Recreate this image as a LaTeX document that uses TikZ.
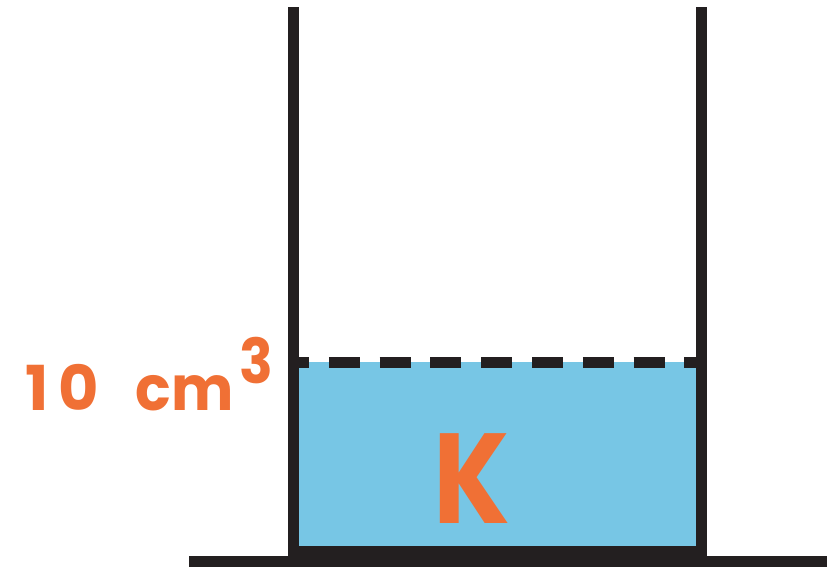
\documentclass[tikz,border=0pt]{standalone}
\usepackage{fontspec}
\setmainfont{Poppins}
\usepackage{graphicx}
\definecolor{ink}{HTML}{231F20}
\definecolor{water}{HTML}{77C6E5}
\definecolor{lbl}{HTML}{F07035}
\begin{document}
\begin{tikzpicture}[x=1pt,y=-1pt,
  wall/.style={ink,line width=11pt},
  lab/.style={lbl,inner sep=0pt,font=\bfseries}]
\useasboundingbox (0,0) rectangle (827,570);
% water
\fill[water] (299,362) rectangle (696,546);
% beaker bottom
\fill[ink] (288.3,546) rectangle (706.7,556);
% walls
\draw[wall] (293.8,7) -- (293.8,556);
\draw[wall] (701.2,7) -- (701.2,556);
% floor
\draw[wall] (189,561.5) -- (827,561.5);
% level line
\draw[wall,dash pattern=on 31pt off 19.8pt,dash phase=21pt] (299,362) -- (696,362);
% labels
\node[lab,anchor=base west,font=\bfseries\fontsize{62}{70}\selectfont] (vol) at (25,410)
  {1\hspace{10pt}0\hspace{37pt}\scalebox{0.95}[1]{cm}\hspace{6pt}\raisebox{27pt}{\scalebox{0.9}[1]{3}}};
\node[lab,anchor=base,font=\bfseries\fontsize{128}{140}\selectfont] (k) at (471.5,523) {\scalebox{0.86}[1]{K}};
\end{tikzpicture}
\end{document}
